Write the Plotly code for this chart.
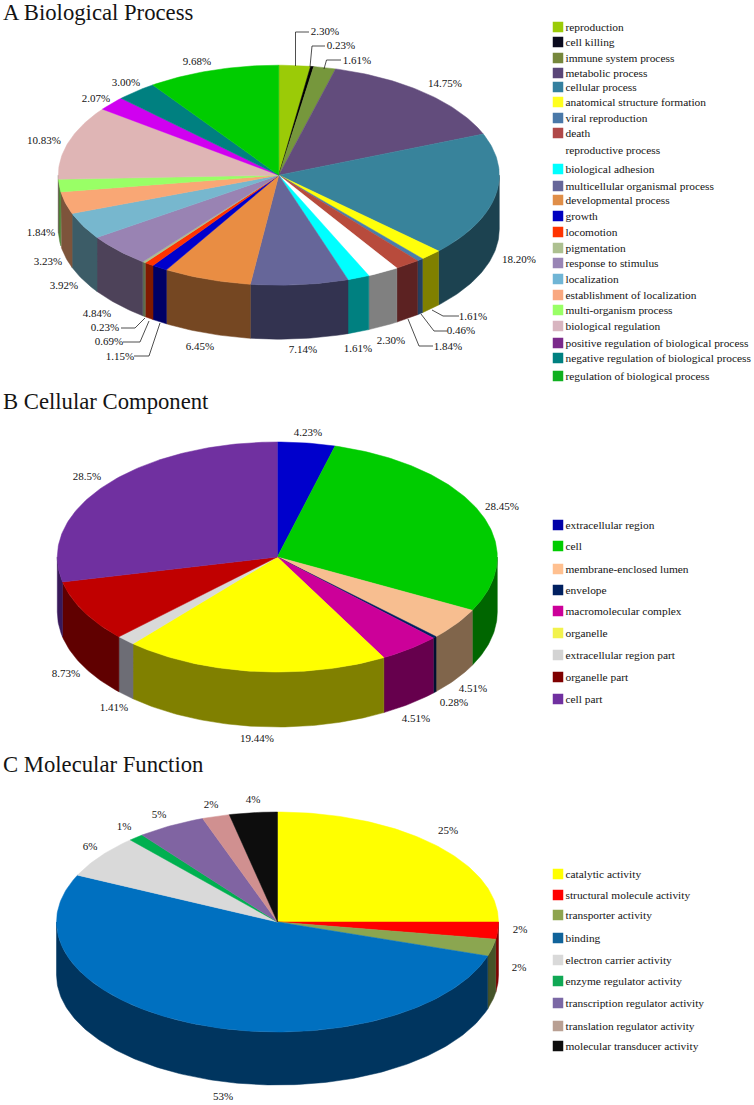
import math
import plotly.graph_objects as go

FONT = "Liberation Serif"

# ---------- data ----------
bp_names = ["reproduction", "cell killing", "immune system process", "metabolic process", "cellular process",
            "anatomical structure formation", "viral reproduction", "death", "reproductive process",
            "biological adhesion", "multicellular organismal process", "developmental process", "growth",
            "locomotion", "pigmentation", "response to stimulus", "localization", "establishment of localization",
            "multi-organism process", "biological regulation", "positive regulation of biological process",
            "negative regulation of biological process", "regulation of biological process"]
bp_values = [2.30, 0.23, 1.61, 14.75, 18.20, 1.61, 0.46, 1.84, 2.30, 1.61, 7.14, 6.45, 1.15, 0.69, 0.23,
             4.84, 3.92, 3.23, 1.84, 10.83, 2.07, 3.00, 9.68]
bp_labels = ["2.30%", "0.23%", "1.61%", "14.75%", "18.20%", "1.61%", "0.46%", "1.84%", "2.30%", "1.61%", "7.14%",
             "6.45%", "1.15%", "0.69%", "0.23%", "4.84%", "3.92%", "3.23%", "1.84%", "10.83%", "2.07%", "3.00%", "9.68%"]

cc_names = ["extracellular region", "cell", "membrane-enclosed lumen", "envelope", "macromolecular complex",
            "organelle", "extracellular region part", "organelle part", "cell part"]
cc_values = [4.23, 28.45, 4.51, 0.28, 4.51, 19.44, 1.41, 8.73, 28.5]
cc_labels = ["4.23%", "28.45%", "4.51%", "0.28%", "4.51%", "19.44%", "1.41%", "8.73%", "28.5%"]

mf_names = ["catalytic activity", "structural molecule activity", "transporter activity", "binding",
            "electron carrier activity", "enzyme regulator activity", "transcription regulator activity",
            "translation regulator activity", "molecular transducer activity"]
# slice sizes (the printed labels are rounded)
mf_values = [25, 2.5, 2.5, 52, 6.4, 1.1, 5, 2, 3.5]
mf_labels = ["25%", "2%", "2%", "53%", "6%", "1%", "5%", "2%", "4%"]

# ---------- styles ----------
bp_top = ["#9BCB07", "#000000", "#76973C", "#624C7C", "#38839B", "#FFFF0A", "#4A7EAB", "#B84B3C", "#FFFFFF",
          "#00FFFF", "#666699", "#E98D43", "#0000CC", "#FF3300", "#ADBF8F", "#9983B3", "#77B7CE", "#F9A775",
          "#99FF66", "#DFB5B5", "#D000F0", "#008080", "#00CC00"]
bp_side = ["#4E6604", "#000000", "#3B4C1E", "#31263E", "#1C4250", "#808000", "#254060", "#5C2222", "#808080",
           "#008080", "#333350", "#754722", "#000066", "#801A00", "#5F6F4F", "#4D4259", "#3C5C67", "#7D543B",
           "#4D8033", "#705B5B", "#680078", "#004040", "#006600"]
bp_swatch = ["#9BCB07", "#0A0A1E", "#76873C", "#5A4678", "#34809F", "#FFFF1E", "#4A78A8", "#B04848", "#FFFFFF",
             "#00FFFF", "#666699", "#E08E48", "#0000C0", "#FF3300", "#ADC090", "#9985B5", "#70B5D5", "#F9A880",
             "#99FF66", "#D8B5C0", "#7B2A8B", "#008080", "#10B020"]

cc_top = ["#0000CC", "#00CC00", "#F7BE90", "#002060", "#CC0099", "#FFFF00", "#D9D9D9", "#C00000", "#7030A0"]
cc_side = ["#000066", "#006600", "#80654B", "#001030", "#66004D", "#808000", "#6D6D75", "#600000", "#38185A"]
cc_swatch = ["#0000A8", "#00CC00", "#FFC090", "#002060", "#CC0099", "#F2F24D", "#D3D3D3", "#7F0000", "#7030A0"]

mf_top = ["#FFFF00", "#FF0000", "#8BA650", "#0070C0", "#D9D9D9", "#00B050", "#8064A2", "#D09090", "#0D0D0D"]
mf_side = ["#808000", "#7F0000", "#455328", "#00355F", "#6D6D6D", "#005828", "#403251", "#684848", "#060606"]
mf_swatch = ["#FFFF00", "#FF0000", "#8EA44E", "#10639A", "#D9D9D9", "#10A855", "#7B68A5", "#B9A093", "#0D0D0D"]

# ---------- layout (pixels) ----------
bp_geo = dict(cx=278.8, cy=175.2, rx=220.5, ry=110, depth=54)
cc_geo = dict(cx=277.3, cy=557, rx=220, ry=115, depth=55)
mf_geo = dict(cx=277.5, cy=922, rx=221, ry=110, depth=53)

titles = [("A Biological Process", 14), ("B Cellular Component", 403), ("C Molecular Function", 766)]

bp_label_xy = [(325, 32), (341, 46), (357, 61), (445, 84), (519, 260), (473, 317), (461, 331), (448, 347), (391, 341),
               (358, 349), (303, 350), (200, 347), (120, 357), (109, 342), (105, 328), (97, 314), (64, 286), (48, 262),
               (41, 233), (44, 141), (96, 99), (126, 83), (197, 62)]
cc_label_xy = [(308, 433), (502, 507), (473, 689), (454, 703), (416, 719), (257, 739), (114, 708), (66, 674), (87, 477)]
mf_label_xy = [(448, 831), (520, 930), (519, 968), (223, 1097), (90, 847), (124, 827), (159, 815), (211, 805), (253, 800)]

bp_leaders = [[(295.5, 66), (295.5, 32), (309, 32)], [(310, 67), (312, 46), (325, 46)], [(324, 69), (326.5, 60), (341, 60)],
              [(432, 310), (443, 316), (459, 316)], [(421, 314), (434, 331), (447, 331)], [(408, 319), (419, 346), (433, 346)],
              [(145, 318), (135, 328), (121, 328)], [(149, 321), (140, 342), (123, 342)], [(160, 323), (149, 356), (134, 356)]]

bp_legend_y = [27, 42, 58, 73, 87, 102, 118, 133, 150, 169, 186, 200, 216, 232, 248, 263, 279, 295, 310, 326, 343, 358, 376]
cc_legend_y = [525, 546, 569, 590, 611, 633, 655, 677, 699]
mf_legend_y = [874, 895, 915, 938, 960, 981, 1003, 1026, 1046]
SWATCH_X, LEGEND_X = 558, 565.5
TEXT_DY = 0.7


def arc(g, a, b, dy=0.0):
    n = max(2, int(abs(b - a) / 1.0) + 2)
    pts = [a + (b - a) * i / (n - 1) for i in range(n)]
    return ([g["cx"] + g["rx"] * math.sin(math.radians(t)) for t in pts],
            [g["cy"] - g["ry"] * math.cos(math.radians(t)) + dy for t in pts])


def poly(fig, xs, ys, color, name):
    fig.add_trace(go.Scatter(x=xs, y=ys, mode="lines", fill="toself", fillcolor=color,
                             line=dict(color=color, width=0.5), name=name, hoverinfo="name"))


def add_pie(fig, g, names, values, top, side):
    total = sum(values)
    edges = [0.0]
    for v in values:
        edges.append(edges[-1] + v / total * 360)
    for i, name in enumerate(names):
        lo, hi = max(edges[i], 90), min(edges[i + 1], 270)
        if hi > lo:
            x1, y1 = arc(g, lo, hi)
            x2, y2 = arc(g, hi, lo, g["depth"])
            poly(fig, x1 + x2 + x1[:1], y1 + y2 + y1[:1], side[i], name)
    for i, name in enumerate(names):
        x1, y1 = arc(g, edges[i], edges[i + 1])
        poly(fig, [g["cx"]] + x1 + [g["cx"]], [g["cy"]] + y1 + [g["cy"]], top[i], name)


def add_text(fig, xs, ys, texts, size, position="middle center"):
    fig.add_trace(go.Scatter(x=xs, y=[y + TEXT_DY for y in ys], mode="text", text=texts, textposition=position,
                             cliponaxis=False, hoverinfo="skip",
                             textfont=dict(family=FONT, size=size, color="#141414")))


fig = go.Figure()
for g, names, values, top, side, labels, label_xy, swatch, legend_y in [
    (bp_geo, bp_names, bp_values, bp_top, bp_side, bp_labels, bp_label_xy, bp_swatch, bp_legend_y),
    (cc_geo, cc_names, cc_values, cc_top, cc_side, cc_labels, cc_label_xy, cc_swatch, cc_legend_y),
    (mf_geo, mf_names, mf_values, mf_top, mf_side, mf_labels, mf_label_xy, mf_swatch, mf_legend_y),
]:
    add_pie(fig, g, names, values, top, side)
    add_text(fig, [p[0] for p in label_xy], [p[1] for p in label_xy], labels, 11)
    fig.add_trace(go.Scatter(x=[SWATCH_X] * len(names), y=legend_y, mode="markers", hovertext=names, hoverinfo="text",
                             marker=dict(symbol="square", size=10.5, color=swatch, line=dict(width=0))))
    add_text(fig, [LEGEND_X] * len(names), legend_y, names, 11.4, "middle right")

for leader in bp_leaders:
    fig.add_trace(go.Scatter(x=[p[0] for p in leader], y=[p[1] for p in leader], mode="lines",
                             line=dict(color="#222222", width=0.8), hoverinfo="skip"))

add_text(fig, [3] * len(titles), [t[1] for t in titles], [t[0] for t in titles], 22.7, "middle right")

fig.update_layout(width=754, height=1105, margin=dict(l=0, r=0, t=0, b=0), showlegend=False,
                  paper_bgcolor="white", plot_bgcolor="white",
                  xaxis=dict(range=[0, 754], visible=False, fixedrange=True),
                  yaxis=dict(range=[1105, 0], visible=False, fixedrange=True))
fig.write_html("out.html", config=dict(displayModeBar=False),
               post_script="document.body.style.margin='0';document.body.style.overflow='hidden';")
